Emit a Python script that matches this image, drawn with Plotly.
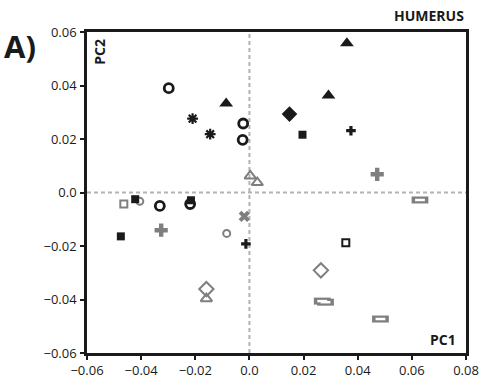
import plotly.graph_objects as go

BLACK = "#1a1a1a"
GREY = "#7f7f7f"

# ---- data (PC1, PC2) by group ----
tri_black_x = [0.036, 0.0292, -0.0086]
tri_black_y = [0.0558, 0.0363, 0.0333]
circ_black_x = [-0.0298, -0.0023, -0.0025, -0.0331, -0.0219]
circ_black_y = [0.039, 0.0258, 0.0197, -0.005, -0.0043]
ast_black_x = [-0.021, -0.0145]
ast_black_y = [0.0276, 0.0218]
dia_black_x = [0.0148]
dia_black_y = [0.0293]
sq_black_x = [0.0196, -0.0422, -0.0216, -0.0475]
sq_black_y = [0.0216, -0.0025, -0.0029, -0.0164]
cross_black_x = [0.0375, -0.0013]
cross_black_y = [0.0231, -0.0192]
cross_grey_x = [0.0472, -0.0326]
cross_grey_y = [0.0068, -0.0141]
tri_grey_x = [0.0003, 0.0029, -0.0159]
tri_grey_y = [0.0062, 0.0037, -0.0397]
sq_grey_x = [-0.0464]
sq_grey_y = [-0.0043]
circ_grey_x = [-0.0405, -0.0084]
circ_grey_y = [-0.0033, -0.0153]
x_grey_x = [-0.0019]
x_grey_y = [-0.0089]
dia_grey_x = [-0.0159, 0.0264]
dia_grey_y = [-0.0361, -0.0291]
sqopen_black_x = [0.0356]
sqopen_black_y = [-0.0188]
rect_grey_x = [0.063, 0.0269, 0.0281, 0.0484]
rect_grey_y = [-0.0028, -0.0406, -0.041, -0.0473]

tick_vals_x = [-0.06, -0.04, -0.02, 0.0, 0.02, 0.04, 0.06, 0.08]
tick_text_x = ["\u22120.06", "\u22120.04", "\u22120.02", "0.0", "0.02", "0.04", "0.06", "0.08"]
tick_vals_y = [-0.06, -0.04, -0.02, 0.0, 0.02, 0.04, 0.06]
tick_text_y = ["\u22120.06", "\u22120.04", "\u22120.02", "0.0", "0.02", "0.04", "0.06"]

fig = go.Figure()


def add(x, y, symbol, color, size, lw=0, lc=None):
    fig.add_trace(go.Scatter(
        x=x, y=y, mode="markers", showlegend=False, hoverinfo="skip",
        marker=dict(symbol=symbol, color=color, size=size,
                    line=dict(width=lw, color=lc if lc else color))))


# reference lines
fig.add_hline(y=0, line=dict(color="#b3b3b3", width=2, dash="4px,3px"), layer="below")
fig.add_vline(x=0, line=dict(color="#b3b3b3", width=2, dash="4px,3px"), layer="below")

add(tri_grey_x, tri_grey_y, "triangle-up-open", GREY, 10, 2)
add(dia_grey_x, dia_grey_y, "diamond-open", GREY, 11, 2)
add(sq_grey_x, sq_grey_y, "square-open", GREY, 7, 2)
add(circ_grey_x, circ_grey_y, "circle-open", GREY, 7, 2)
add(x_grey_x, x_grey_y, "x", GREY, 10, 0)
add(cross_grey_x, cross_grey_y, "cross", GREY, 11, 0)
# open rectangles: thick grey bar with white centre
add(rect_grey_x, rect_grey_y, "line-ew", GREY, 12, 7)
add(rect_grey_x, rect_grey_y, "line-ew", "white", 7, 2.5)
add(circ_black_x, circ_black_y, "circle-open", BLACK, 9, 2.8)
add(tri_black_x, tri_black_y, "triangle-up", BLACK, 12, 0)
add(ast_black_x, ast_black_y, "asterisk-open", BLACK, 9, 2.2)
add(dia_black_x, dia_black_y, "diamond", BLACK, 12, 0)
add(sq_black_x, sq_black_y, "square", BLACK, 8, 0)
add(cross_black_x, cross_black_y, "cross", BLACK, 8, 0)
add(sqopen_black_x, sqopen_black_y, "square-open", BLACK, 7, 2)

axis_common = dict(
    showgrid=False, zeroline=False, showline=True, linewidth=2.5, linecolor=BLACK,
    mirror=True, ticks="outside", ticklen=4, tickwidth=2, tickcolor=BLACK,
    tickfont=dict(family="Open Sans", size=13, color=BLACK),
)

fig.update_xaxes(range=[-0.06, 0.08], tickmode="array", tickvals=tick_vals_x,
                 ticktext=tick_text_x, ticklabelstandoff=0, **axis_common)
fig.update_yaxes(range=[-0.06, 0.06], tickmode="array", tickvals=tick_vals_y,
                 ticktext=tick_text_y, ticklabelstandoff=1, **axis_common)

fig.add_annotation(text="<b>A)</b>", xref="paper", yref="paper", x=-0.225, y=0.955,
                   xanchor="left", yanchor="middle", showarrow=False,
                   font=dict(family="Open Sans", size=31, color=BLACK))
fig.add_annotation(text="<b>HUMERUS</b>", xref="paper", yref="paper", x=1.0, y=1.051,
                   xanchor="right", yanchor="middle", showarrow=False,
                   font=dict(family="Open Sans", size=14, color=BLACK))
fig.add_annotation(text="<b>PC2</b>", xref="paper", yref="paper", x=0.034, y=0.985,
                   xanchor="center", yanchor="top", showarrow=False, textangle=-90,
                   font=dict(family="Open Sans", size=14, color=BLACK))
fig.add_annotation(text="<b>PC1</b>", xref="paper", yref="paper", x=0.98, y=0.042,
                   xanchor="right", yanchor="middle", showarrow=False,
                   font=dict(family="Open Sans", size=14, color=BLACK))

fig.update_layout(
    width=491, height=391,
    margin=dict(l=87, r=19, t=32, b=28),
    plot_bgcolor="white", paper_bgcolor="white",
)

fig.write_html("out.html")
